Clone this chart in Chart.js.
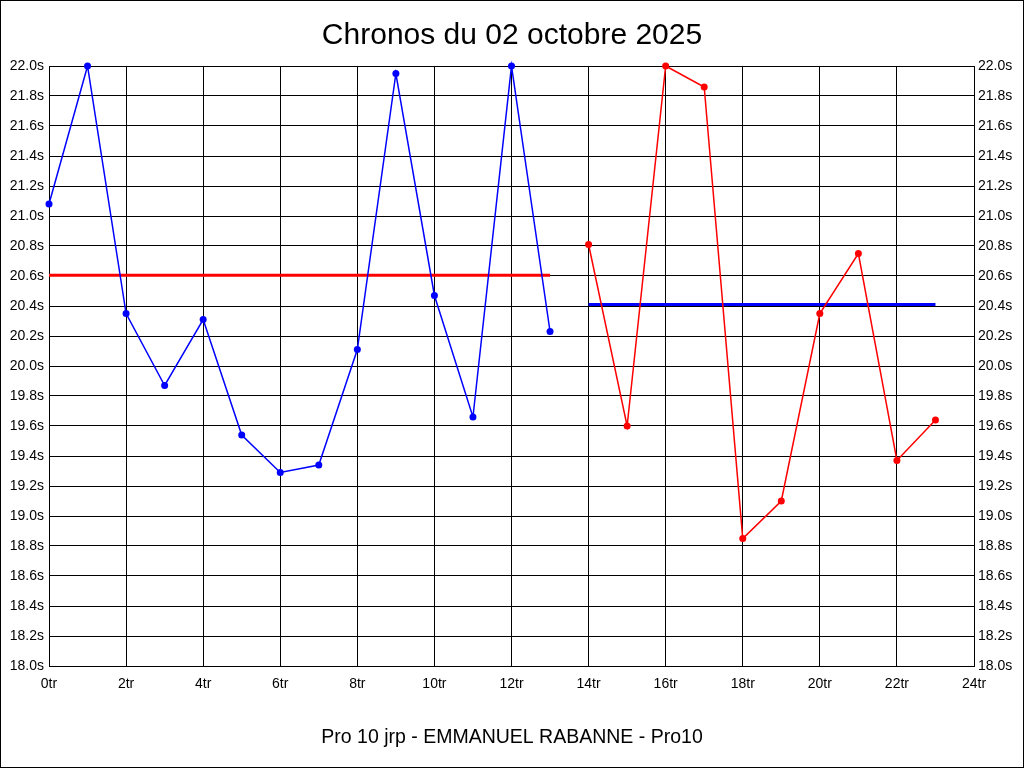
<!DOCTYPE html>
<html lang="fr">
<head>
<meta charset="utf-8">
<title>Chronos du 02 octobre 2025</title>
<script src="https://cdn.jsdelivr.net/npm/chart.js@4.4.1/dist/chart.umd.min.js"></script>
<style>
  html, body { margin: 0; padding: 0; background: #ffffff; }
  canvas { display: block; }
</style>
</head>
<body>
<canvas id="chronoChart" width="1024" height="768"></canvas>
<script>
// chronos par tour

const TITRE = "Chronos du 02 octobre 2025";
const SOUS_TITRE = "Pro 10 jrp - EMMANUEL RABANNE - Pro10";

// première série (bleue)
const toursBleus = [0, 1, 2, 3, 4, 5, 6, 7, 8, 9, 10, 11, 12, 13];
const chronosBleus = [21.08, 22.0, 20.35, 19.87, 20.31, 19.54, 19.29, 19.34, 20.11, 21.95, 20.47, 19.66, 22.0, 20.23];

// deuxième série (rouge)
const toursRouges = [14, 15, 16, 17, 18, 19, 20, 21, 22, 23];
const chronosRouges = [20.81, 19.60, 22.0, 21.86, 18.85, 19.10, 20.35, 20.75, 19.37, 19.64];

// lignes de moyenne
const moyenneRougeTours = [0, 13];
const moyenneRougeValeurs = [20.605, 20.605];
const moyenneBleueTours = [14, 23];
const moyenneBleueValeurs = [20.41, 20.41];

// axes
const Y_MIN = 18.0, Y_MAX = 22.0, Y_PAS = 0.2;
const X_MIN = 0, X_MAX = 24, X_PAS = 2;

const COLORS = {
  bleu:  "#0000ff",
  rouge: "#ff0000",
  noir:  "#000000"
};

const POLICE = "'Liberation Sans', Arial, sans-serif";

function points(xs, ys) {
  return xs.map((x, i) => ({ x, y: ys[i] }));
}

const cadrePlugin = {
  id: "cadre",
  beforeDraw(chart) {
    const { ctx, width, height } = chart;
    ctx.save();
    ctx.fillStyle = "#ffffff";
    ctx.fillRect(0, 0, width, height);
    ctx.restore();
  },
  afterDraw(chart) {
    const { ctx, width, height } = chart;
    ctx.save();
    ctx.strokeStyle = COLORS.noir;
    ctx.lineWidth = 1;
    ctx.strokeRect(0.5, 0.5, width - 1, height - 1);
    ctx.restore();
  }
};

const axeY = (position) => ({
  type: "linear",
  position,
  min: Y_MIN,
  max: Y_MAX,
  border: { display: true, color: COLORS.noir, width: 1 },
  grid: {
    display: true,
    color: COLORS.noir,
    lineWidth: 1,
    drawTicks: false,
    drawOnChartArea: position === "left"
  },
  ticks: {
    stepSize: Y_PAS,
    padding: position === "left" ? 5 : 4,
    color: COLORS.noir,
    font: { family: POLICE, size: 14 },
    callback: (v) => Number(v).toFixed(1) + "s"
  },
  afterFit(scale) {
    scale.width = position === "left" ? 49 : 50;
  }
});

new Chart(document.getElementById("chronoChart").getContext("2d"), {
  type: "line",
  data: {
    datasets: [
      {
        label: "Série 1",
        data: points(toursBleus, chronosBleus),
        borderColor: COLORS.bleu,
        backgroundColor: COLORS.bleu,
        borderWidth: 1.5,
        pointRadius: 3.5,
        pointBorderWidth: 0,
        pointBackgroundColor: COLORS.bleu,
        tension: 0,
        clip: false
      },
      {
        label: "Série 2",
        data: points(toursRouges, chronosRouges),
        borderColor: COLORS.rouge,
        backgroundColor: COLORS.rouge,
        borderWidth: 1.5,
        pointRadius: 3.5,
        pointBorderWidth: 0,
        pointBackgroundColor: COLORS.rouge,
        tension: 0,
        clip: false
      },
      {
        label: "Moyenne 1",
        data: points(moyenneRougeTours, moyenneRougeValeurs),
        borderColor: COLORS.rouge,
        borderWidth: 3,
        borderCapStyle: "butt",
        pointRadius: 0,
        clip: false
      },
      {
        label: "Moyenne 2",
        data: points(moyenneBleueTours, moyenneBleueValeurs),
        borderColor: COLORS.bleu,
        borderWidth: 3,
        borderCapStyle: "butt",
        pointRadius: 0,
        clip: false
      }
    ]
  },
  options: {
    responsive: false,
    animation: false,
    devicePixelRatio: 1,
    layout: { padding: 0 },
    plugins: {
      legend: { display: false },
      tooltip: { enabled: false },
      title: {
        display: true,
        text: TITRE,
        color: COLORS.noir,
        font: { family: POLICE, size: 30, weight: "normal", lineHeight: 1.2 },
        padding: { top: 18, bottom: 12 }
      },
      subtitle: {
        display: true,
        position: "bottom",
        text: SOUS_TITRE,
        color: COLORS.noir,
        font: { family: POLICE, size: 19.5, weight: "normal", lineHeight: 1.2 },
        padding: { top: 12.6, bottom: 19 }
      }
    },
    scales: {
      x: {
        type: "linear",
        position: "bottom",
        min: X_MIN,
        max: X_MAX,
        border: { display: true, color: COLORS.noir, width: 1 },
        grid: { color: COLORS.noir, lineWidth: 1, drawTicks: false },
        ticks: {
          stepSize: X_PAS,
          padding: 10,
          maxRotation: 0,
          color: COLORS.noir,
          font: { family: POLICE, size: 14 },
          callback: (v) => v + "tr"
        },
        afterFit(scale) {
          scale.height = 47;
        }
      },
      y: axeY("left"),
      y2: axeY("right")
    }
  },
  plugins: [cadrePlugin]
});
</script>
</body>
</html>
